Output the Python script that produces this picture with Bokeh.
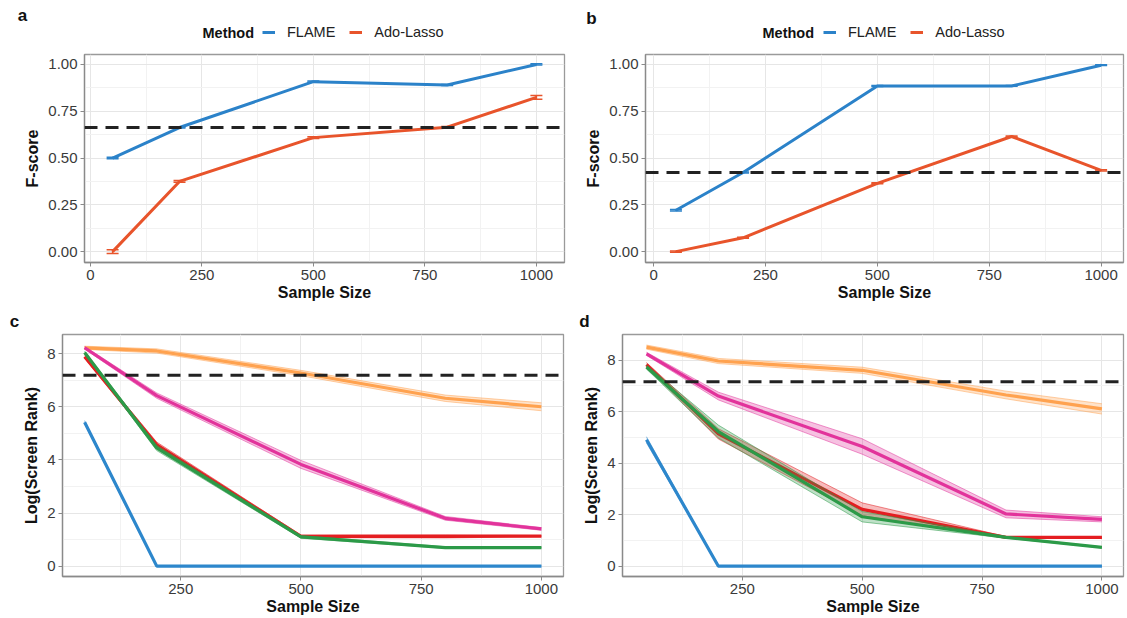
from bokeh.plotting import figure
from bokeh.layouts import column, row
from bokeh.models import (Span, Legend, LegendItem, FixedTicker, Label, Whisker,
                          ColumnDataSource, Range1d, TeeHead)
from bokeh.embed import file_html
from bokeh.resources import INLINE

# ---------------- data ----------------
sample_sizes = [50, 200, 500, 800, 1000]

# panel a (F-score)
a_flame = [0.50, 0.663, 0.908, 0.890, 1.000]
a_flame_err = [0.004, 0.003, 0.003, 0.003, 0.003]
a_ado = [0.000, 0.375, 0.609, 0.665, 0.824]
a_ado_err = [0.010, 0.005, 0.005, 0.004, 0.010]
a_threshold = 0.663

# panel b (F-score)
b_flame = [0.221, 0.423, 0.885, 0.885, 0.996]
b_flame_err = [0.004, 0.003, 0.003, 0.002, 0.002]
b_ado = [0.000, 0.074, 0.365, 0.615, 0.434]
b_ado_err = [0.003, 0.003, 0.003, 0.003, 0.003]
b_threshold = 0.423

# panel c (Log(Screen Rank)) mean and half-width of ribbon
c_orange = [8.22, 8.10, 7.27, 6.32, 6.00]
c_orange_se = [0.06, 0.08, 0.10, 0.12, 0.15]
c_magenta = [8.22, 6.42, 3.83, 1.80, 1.40]
c_magenta_se = [0.05, 0.10, 0.15, 0.07, 0.05]
c_red = [7.88, 4.57, 1.12, 1.12, 1.13]
c_red_se = [0.05, 0.10, 0.05, 0.06, 0.02]
c_green = [8.04, 4.45, 1.10, 0.70, 0.70]
c_green_se = [0.05, 0.10, 0.05, 0.03, 0.02]
c_blue = [5.42, 0.0, 0.0, 0.0, 0.0]
c_blue_se = [0.06, 0.0, 0.0, 0.0, 0.0]
c_threshold = 7.19

# panel d
d_orange = [8.51, 7.97, 7.61, 6.65, 6.11]
d_orange_se = [0.08, 0.10, 0.12, 0.15, 0.20]
d_magenta = [8.25, 6.61, 4.65, 2.03, 1.82]
d_magenta_se = [0.06, 0.15, 0.30, 0.15, 0.10]
d_red = [7.83, 5.14, 2.21, 1.12, 1.12]
d_red_se = [0.08, 0.20, 0.25, 0.03, 0.02]
d_green = [7.74, 5.23, 1.92, 1.12, 0.73]
d_green_se = [0.08, 0.25, 0.20, 0.03, 0.02]
d_blue = [4.91, 0.0, 0.0, 0.0, 0.0]
d_blue_se = [0.12, 0.0, 0.0, 0.0, 0.0]
d_threshold = 7.16

x_ticks_ab = [0, 250, 500, 750, 1000]
y_ticks_ab = [0.0, 0.25, 0.5, 0.75, 1.0]
y_tick_labels_ab = {0.0: "0.00", 0.25: "0.25", 0.5: "0.50", 0.75: "0.75", 1.0: "1.00"}
x_ticks_cd = [250, 500, 750, 1000]
y_ticks_cd = [0, 2, 4, 6, 8]
legend_title = "Method"
method_names = ["FLAME", "Ado-Lasso"]
panel_letters = ["a", "b", "c", "d"]

BLUE = "#2B82C9"
REDOR = "#E8542B"
C_ORANGE = "#FFA24F"
C_MAGENTA = "#E2339B"
C_RED = "#E41E21"
C_GREEN = "#2C9A48"
C_BLUE = "#2D87CC"

FONT = "Liberation Sans"


def style(p, xt, xminor, yt, yminor):
    p.background_fill_color = "white"
    p.border_fill_color = "white"
    p.outline_line_color = "#9a9a9a"
    p.outline_line_width = 1.3
    p.xaxis.ticker = FixedTicker(ticks=xt, minor_ticks=xminor)
    p.yaxis.ticker = FixedTicker(ticks=yt, minor_ticks=yminor)
    for ax in (p.xaxis[0], p.yaxis[0]):
        ax.axis_line_color = "#8a8a8a"
        ax.axis_line_width = 1.3
        ax.major_tick_line_color = "#8a8a8a"
        ax.major_tick_in = 0
        ax.major_tick_out = 4
        ax.minor_tick_line_color = None
        ax.major_label_text_font = FONT
        ax.major_label_text_font_size = "15px"
        ax.major_label_text_color = "#3a3a3a"
        ax.axis_label_text_font = FONT
        ax.axis_label_text_font_size = "16px"
        ax.axis_label_text_font_style = "bold"
        ax.axis_label_text_color = "#111111"
    p.xaxis.major_label_standoff = 3
    p.yaxis.major_label_standoff = 3
    p.xaxis.axis_label_standoff = 1
    p.yaxis.axis_label_standoff = 4
    p.grid.grid_line_color = "#e6e6e6"
    p.grid.grid_line_width = 1
    p.grid.minor_grid_line_color = "#f2f2f2"
    p.grid.minor_grid_line_width = 1


def strip(width, height):
    # header strip whose data units are pixels (origin at bottom-left)
    s = figure(width=width, height=height, output_backend="svg", toolbar_location=None,
               x_range=Range1d(0, width), y_range=Range1d(0, height),
               x_axis_type=None, y_axis_type=None,
               min_border_left=0, min_border_right=0, min_border_top=0,
               min_border_bottom=0)
    s.grid.visible = False
    s.outline_line_color = None
    s.background_fill_color = "white"
    s.border_fill_color = "white"
    return s


def text(s, t, x, y, size="17px", style_="bold", align="center", color="#111111",
         baseline="middle"):
    s.add_layout(Label(x=x, y=y, text=t, text_font=FONT, text_font_size=size,
                       text_font_style=style_, text_align=align,
                       text_baseline=baseline, text_color=color))


def header_ab(width, letter, letter_xy, title_x, key_x):
    s = strip(width, 52)
    text(s, letter, *letter_xy)
    text(s, legend_title, title_x, 20, size="14.5px", align="left")
    # legend-key helpers, kept outside the visible strip
    r1 = s.line(x=[-60, -50], y=[-60, -60], line_color=BLUE, line_width=3)
    r2 = s.line(x=[-60, -50], y=[-60, -60], line_color=REDOR, line_width=3)
    leg = Legend(items=[LegendItem(label=method_names[0], renderers=[r1]),
                        LegendItem(label=method_names[1], renderers=[r2])],
                 orientation="horizontal", location=(key_x, 10), padding=0, margin=0,
                 border_line_color=None, background_fill_alpha=0,
                 label_text_font=FONT, label_text_font_size="14.5px",
                 label_text_color="#222222",
                 glyph_width=13, glyph_height=20, label_height=20,
                 label_standoff=12, spacing=14)
    s.add_layout(leg)
    return s


def fscore_panel(width, bl, br, xr, flame, flame_err, ado, ado_err, thr):
    p = figure(width=width, height=251, output_backend="svg", toolbar_location=None,
               x_range=Range1d(*xr), y_range=Range1d(-0.058, 1.053),
               min_border_left=bl, min_border_right=br, min_border_top=2,
               min_border_bottom=40)
    style(p, x_ticks_ab, [125, 375, 625, 875], y_ticks_ab, [0.125, 0.375, 0.625, 0.875])
    p.yaxis.major_label_overrides = y_tick_labels_ab
    p.xaxis.axis_label = "Sample Size"
    p.yaxis.axis_label = "F-score"
    p.add_layout(Span(location=thr, dimension="width", line_color="#222222",
                      line_width=3, line_dash="13 8"))
    for vals, errs, col in ((flame, flame_err, BLUE), (ado, ado_err, REDOR)):
        src = ColumnDataSource(dict(x=sample_sizes, y=vals,
                                    lo=[v - e for v, e in zip(vals, errs)],
                                    hi=[v + e for v, e in zip(vals, errs)]))
        p.line("x", "y", source=src, line_color=col, line_width=3)
        w = Whisker(base="x", upper="hi", lower="lo", source=src, line_color=col,
                    line_width=1.5,
                    upper_head=TeeHead(size=12, line_color=col, line_width=1.5),
                    lower_head=TeeHead(size=12, line_color=col, line_width=1.5))
        p.add_layout(w)
    return p


def rank_panel(width, bl, br, xr, yr, series, thr):
    p = figure(width=width, height=285, output_backend="svg", toolbar_location=None,
               x_range=Range1d(*xr), y_range=Range1d(*yr),
               min_border_left=bl, min_border_right=br, min_border_top=1,
               min_border_bottom=42)
    style(p, x_ticks_cd, [125, 375, 625, 875], y_ticks_cd, [1, 3, 5, 7])
    p.xaxis.axis_label = "Sample Size"
    p.yaxis.axis_label = "Log(Screen Rank)"
    for vals, se, col in series:
        lo = [v - s for v, s in zip(vals, se)]
        hi = [v + s for v, s in zip(vals, se)]
        src = ColumnDataSource(dict(x=sample_sizes, y=vals, lo=lo, hi=hi))
        p.varea(x="x", y1="lo", y2="hi", source=src, fill_color=col, fill_alpha=0.3)
        p.line("x", "lo", source=src, line_color=col, line_width=1, line_alpha=0.5)
        p.line("x", "hi", source=src, line_color=col, line_width=1, line_alpha=0.5)
        p.line("x", "y", source=src, line_color=col, line_width=3.2)
    p.add_layout(Span(location=thr, dimension="width", line_color="#222222",
                      line_width=3, line_dash="13 8"))
    return p


ha = header_ab(570, panel_letters[0], (22, 37), 202, 262)
hb = header_ab(557, panel_letters[1], (21, 34), 192, 253)
pa = fscore_panel(570, 84, 6, (-13, 1063), a_flame, a_flame_err, a_ado, a_ado_err, a_threshold)
pb = fscore_panel(557, 75, 4, (-18, 1050), b_flame, b_flame_err, b_ado, b_ado_err, b_threshold)

hc = strip(570, 30)
text(hc, panel_letters[2], 14, 12)
hd = strip(557, 30)
text(hd, panel_letters[3], 14, 12)

c_series = [(c_orange, c_orange_se, C_ORANGE), (c_magenta, c_magenta_se, C_MAGENTA),
            (c_red, c_red_se, C_RED), (c_green, c_green_se, C_GREEN),
            (c_blue, c_blue_se, C_BLUE)]
d_series = [(d_orange, d_orange_se, C_ORANGE), (d_magenta, d_magenta_se, C_MAGENTA),
            (d_red, d_red_se, C_RED), (d_green, d_green_se, C_GREEN),
            (d_blue, d_blue_se, C_BLUE)]

pc = rank_panel(570, 62, 7, (4, 1046), (-0.39, 8.72), c_series, c_threshold)
pd = rank_panel(557, 52, 4, (0, 1045), (-0.40, 9.0), d_series, d_threshold)

layout = column(row(ha, hb), row(pa, pb), row(hc, hd), row(pc, pd))
open("out.html", "w").write(file_html(layout, INLINE))
